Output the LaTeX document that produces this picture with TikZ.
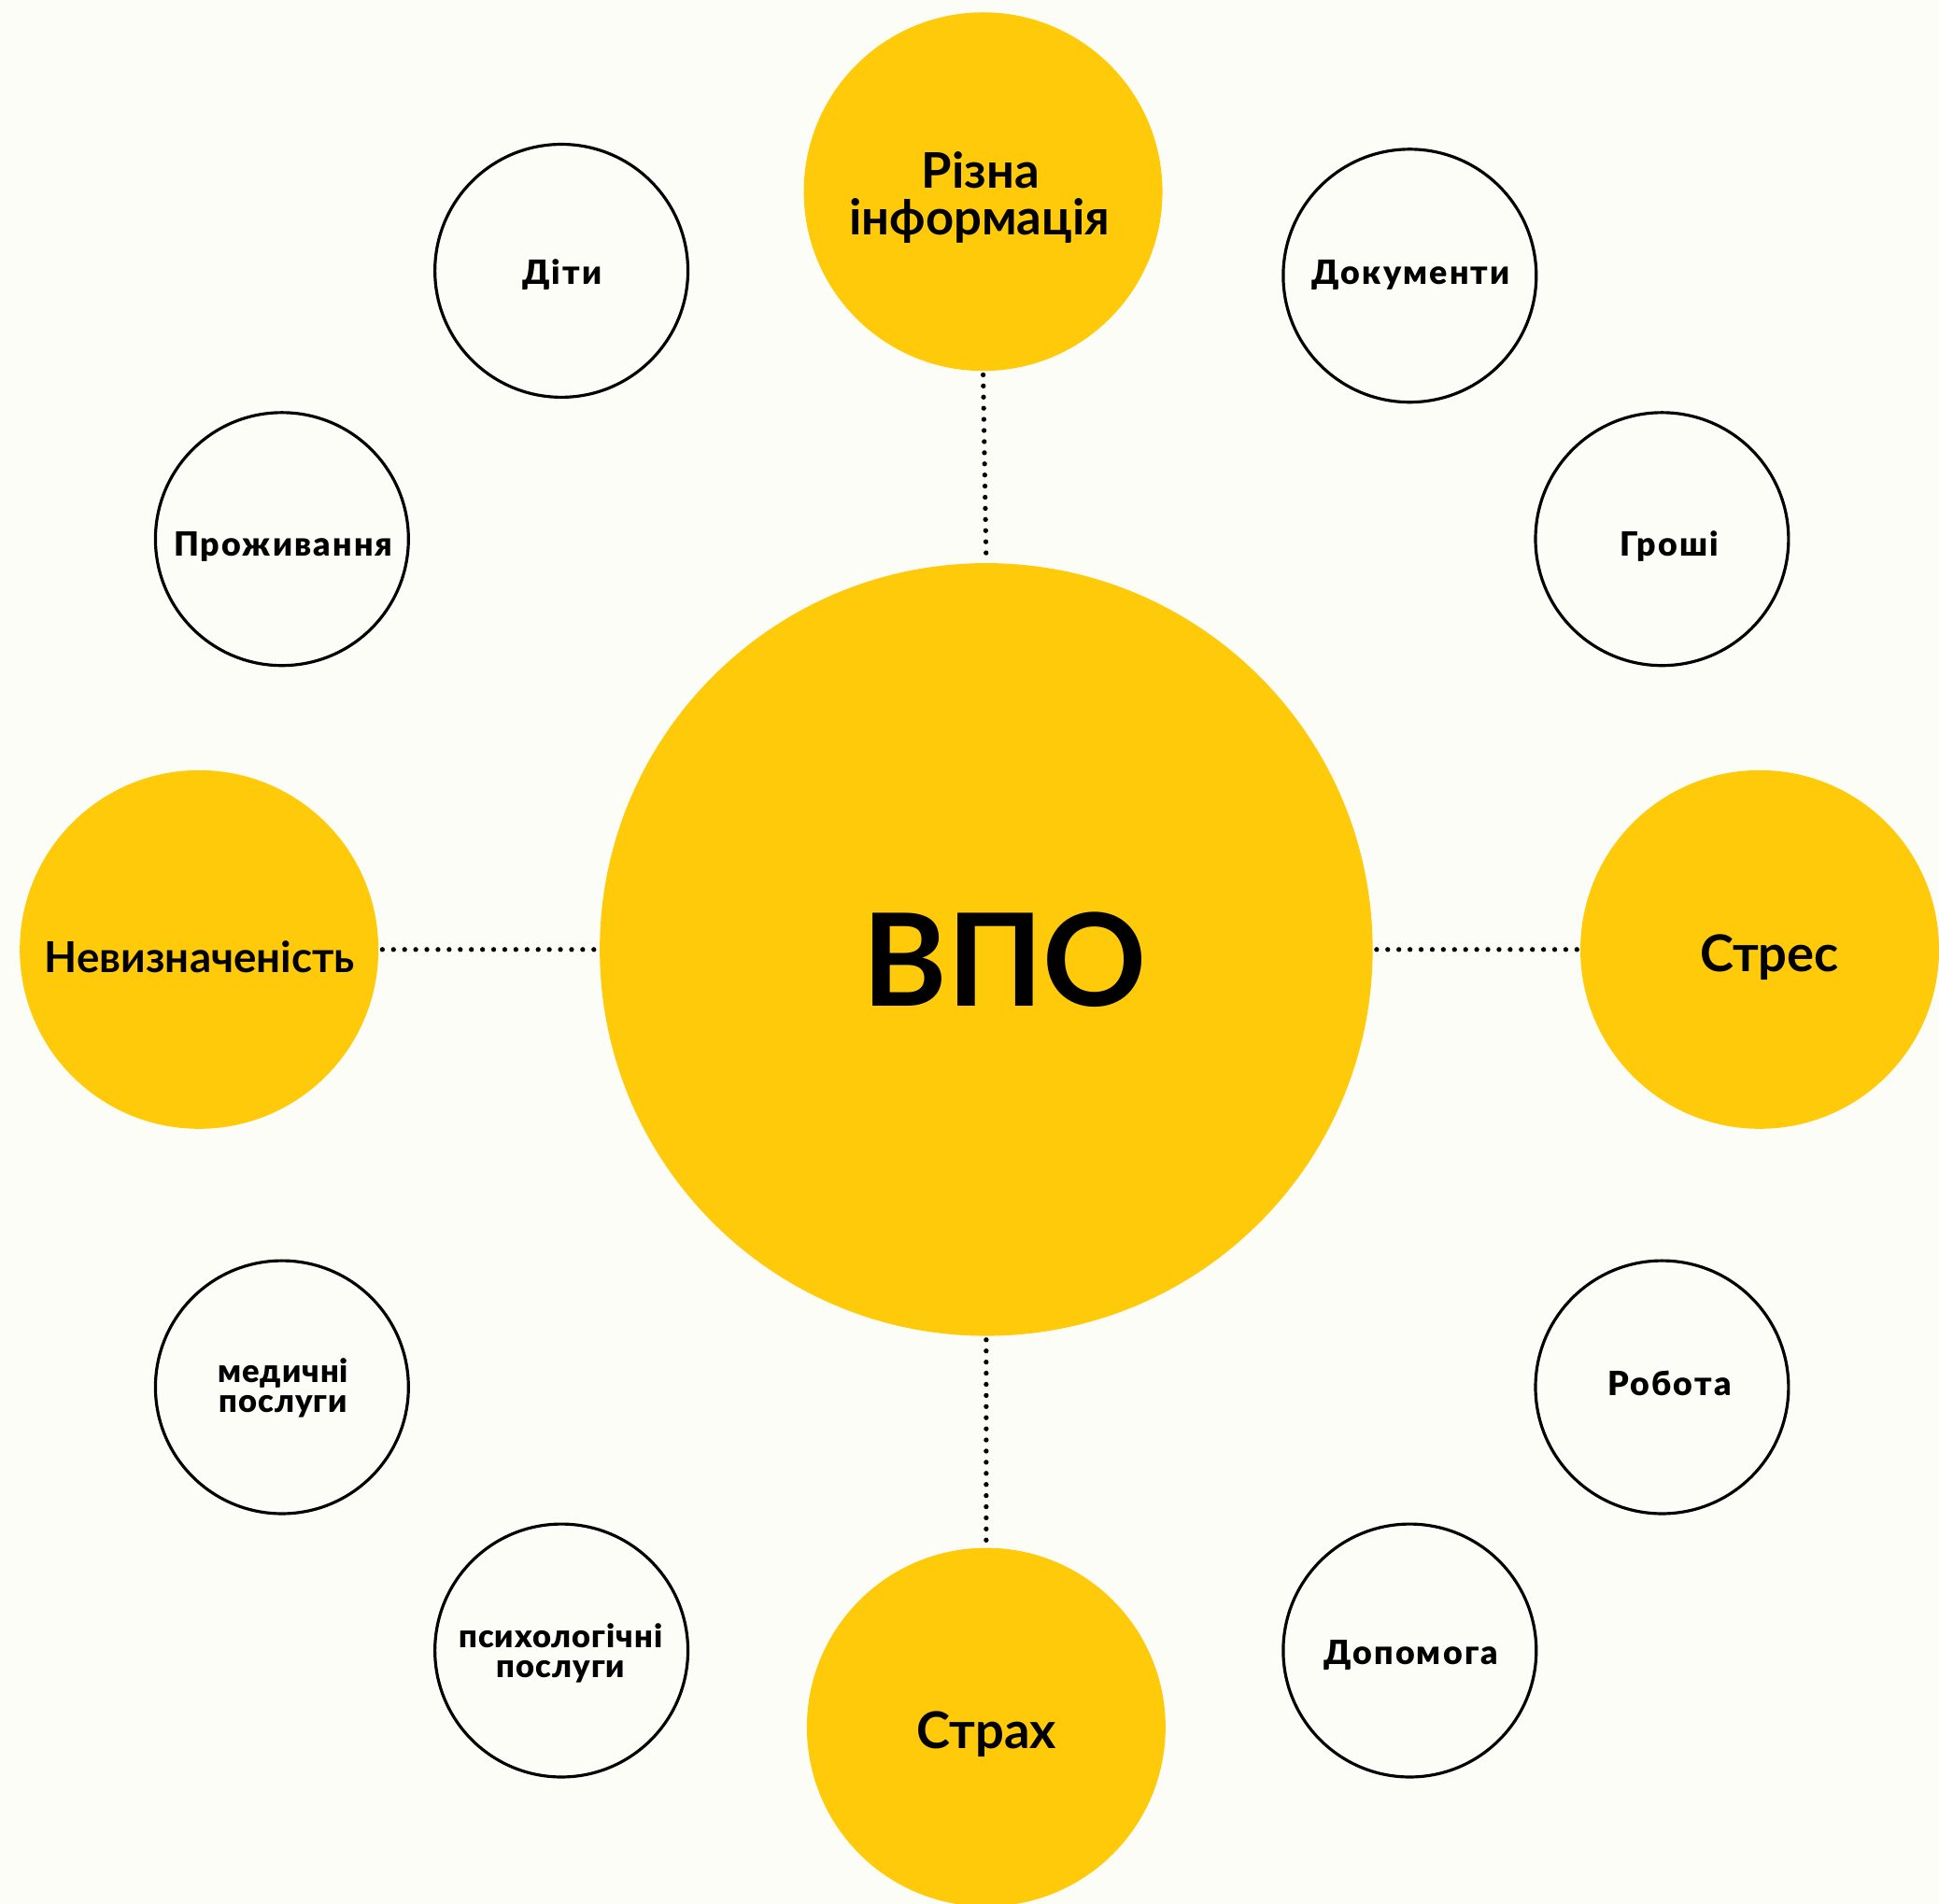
\documentclass[tikz,border=0pt]{standalone}
\usepackage{fontspec}
\setmainfont{Lato}
\newfontface\latoblack{Lato Black}[LetterSpace=6]
\newfontface\latoblackb{Lato Black}[LetterSpace=3]
\definecolor{bg}{RGB}{253,253,248}
\definecolor{ylw}{RGB}{254,202,10}
\begin{document}
\begin{tikzpicture}[x=1pt,y=-1pt,
  ybig/.style={circle,fill=ylw,inner sep=0pt,minimum size=#1},
  wcirc/.style={circle,draw=black,line width=2.4pt,inner sep=0pt,minimum size=204.6pt},
  dotline/.style={line width=4pt,line cap=round,dash pattern=on 0pt off 9pt,black,shorten <=3pt,shorten >=2pt},
  lbl/.style={anchor=base,inner sep=0pt,text=black},
  bigtxt/.style={lbl,font=\bfseries\fontsize{41}{41}\selectfont},
  smalltxt/.style={lbl,font=\latoblack\fontsize{27}{27}\selectfont},
  twotxt/.style={lbl,font=\latoblackb\fontsize{26}{26}\selectfont}
]
\useasboundingbox (0,0) rectangle (1568,1540);
\fill[bg] (0,0) rectangle (1568,1540);

% yellow circles
\node[ybig=625pt] (vpo) at (797.5,768) {};
\node[ybig=290pt] (info) at (795,155) {};
\node[ybig=290pt] (fear) at (797.5,1397) {};
\node[ybig=290pt] (unc) at (161,768) {};
\node[ybig=290pt] (stress) at (1423,768) {};

% white circles
\node[wcirc] (kids) at (454,219) {};
\node[wcirc] (docs) at (1140,223) {};
\node[wcirc] (housing) at (228,436) {};
\node[wcirc] (money) at (1344,436) {};
\node[wcirc] (med) at (228,1122) {};
\node[wcirc] (work) at (1344,1122) {};
\node[wcirc] (psy) at (454,1335) {};
\node[wcirc] (help) at (1140,1335) {};

% connectors
\draw[dotline] (info.south) -- (vpo.north);
\draw[dotline] (vpo.south) -- (fear.north);
\draw[dotline] (unc.east) -- (vpo.west);
\draw[dotline] (vpo.east) -- (stress.west);

% labels
\node[lbl,font=\bfseries\fontsize{104}{104}\selectfont] (tvpo) at (812.5,813.5) {ВПО};
\node[bigtxt,font=\bfseries\fontsize{39.7}{39.7}\selectfont] (tinfo1) at (793,152.5) {Різна};
\node[bigtxt,font=\bfseries\fontsize{39.7}{39.7}\selectfont] (tinfo2) at (792,190) {інформація};
\node[bigtxt,font=\bfseries\fontsize{34.5}{34.5}\selectfont] (tunc) at (161.5,787) {Невизначеність};
\node[bigtxt] (tstress) at (1431,785.5) {Стрес};
\node[bigtxt] (tfear) at (798,1414) {Страх};

\node[smalltxt] (tkids) at (454.5,230) {Діти};
\node[smalltxt] (tdocs) at (1141,230) {Документи};
\node[smalltxt] (thousing) at (229,449.5) {Проживання};
\node[smalltxt] (tmoney) at (1350,449.5) {Гроші};
\node[smalltxt] (twork) at (1350,1129) {Робота};
\node[smalltxt] (thelp) at (1141,1346) {Допомога};
\node[twotxt] (tmed1) at (229,1118.5) {медичні};
\node[twotxt] (tmed2) at (229,1142) {послуги};
\node[twotxt] (tpsy1) at (453.5,1333) {психологічні};
\node[twotxt] (tpsy2) at (453.5,1357) {послуги};
\end{tikzpicture}
\end{document}
